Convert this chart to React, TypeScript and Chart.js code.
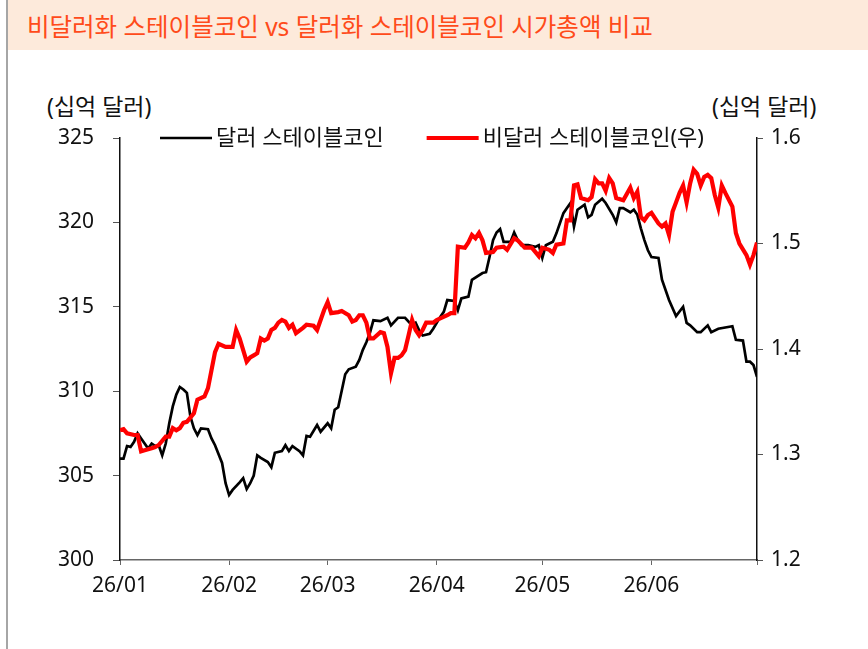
import { useEffect, useRef } from "react";
import { Chart, registerables } from "chart.js";

Chart.register(...registerables);

// ---- data (day index from 2026-01-01) ----
const dollarDays = [0,1,2,3,4,5,6,7,8,9,10,11,12,13,14,15,16,17,18,19,20,21,22,23,25,26,27,29,30,31,32,34,35,36,37,38,39,40,42,43,44,46,47,48,49,51,52,53,54,56,57,59,60,61,62,64,65,67,68,69,70,71,72,74,76,77,79,81,83,84,85,86,88,89,91,92,93,95,96,97,99,100,103,104,105,106,107,108,109,111,112,113,114,116,118,119,120,121,123,124,126,127,128,129,130,132,133,134,135,137,138,140,141,142,143,145,146,147,148,149,150,151,153,154,156,158,160,161,162,164,165,167,168,170,174,175,177,178,179,180,181];
const dollarValues = [306.0,306.0,306.75,306.7,307.0,307.5,307.2,306.9,306.6,306.9,306.75,306.8,306.2,306.9,308.1,309.1,309.8,310.25,310.1,309.9,308.5,307.8,307.4,307.8,307.75,307.2,306.8,305.75,304.55,303.85,304.15,304.6,304.85,304.2,304.55,305.0,306.2,306.05,305.8,305.5,306.35,306.45,306.8,306.45,306.75,306.45,306.2,307.35,307.3,308.0,307.6,308.1,307.8,308.9,309.05,311.0,311.3,311.45,311.85,312.45,312.9,313.45,314.2,314.15,314.35,313.9,314.35,314.35,313.9,314.05,313.6,313.3,313.4,313.7,314.4,314.7,315.4,315.35,314.8,315.5,315.6,316.6,317.0,317.05,317.95,318.95,319.4,319.6,318.85,318.85,319.4,318.95,318.65,318.65,318.55,318.65,317.9,318.65,318.85,319.35,320.55,320.85,321.15,319.75,320.75,321.05,320.3,320.45,321.05,321.4,321.15,320.45,320.0,320.85,320.85,320.6,320.75,320.45,319.65,318.95,318.35,317.95,317.9,316.6,315.4,314.45,315.0,314.05,313.9,313.5,313.5,313.9,313.5,313.7,313.85,313.05,313.0,311.75,311.75,311.55,310.85];

const nonDollarDays = [0,1,2,4,5,6,7,8,9,10,11,13,14,15,16,17,18,19,21,22,24,25,26,27,28,30,31,32,33,34,36,37,38,39,40,41,42,43,44,45,46,47,48,49,50,52,53,55,56,58,59,60,62,63,65,66,67,68,69,70,71,72,74,75,76,77,78,79,80,81,82,83,84,85,86,87,89,90,91,93,94,95,96,98,99,100,101,102,103,104,106,107,109,110,112,113,115,117,118,119,120,122,123,124,126,127,128,129,130,131,133,134,135,136,137,138,139,140,141,143,144,145,146,147,148,149,150,151,153,154,155,156,157,158,159,160,161,162,163,164,165,166,167,168,169,170,171,172,174,175,176,178,179,180,181];
const nonDollarValues = [1.323,1.324,1.320,1.3185,1.3185,1.303,1.304,1.305,1.306,1.307,1.309,1.317,1.317,1.325,1.323,1.325,1.330,1.331,1.339,1.352,1.355,1.363,1.380,1.397,1.405,1.402,1.402,1.402,1.418,1.410,1.388,1.392,1.394,1.396,1.410,1.408,1.410,1.418,1.420,1.425,1.4275,1.426,1.420,1.423,1.415,1.420,1.423,1.422,1.418,1.437,1.4445,1.434,1.435,1.436,1.432,1.426,1.4275,1.432,1.432,1.425,1.410,1.410,1.416,1.415,1.402,1.377,1.3915,1.3915,1.394,1.399,1.413,1.4275,1.418,1.413,1.418,1.425,1.425,1.4275,1.429,1.432,1.434,1.434,1.497,1.496,1.501,1.508,1.505,1.510,1.503,1.491,1.492,1.496,1.497,1.494,1.505,1.503,1.496,1.496,1.492,1.488,1.496,1.494,1.491,1.499,1.500,1.522,1.522,1.555,1.556,1.543,1.541,1.544,1.561,1.557,1.557,1.550,1.562,1.557,1.543,1.541,1.547,1.553,1.543,1.549,1.525,1.522,1.527,1.529,1.519,1.516,1.519,1.508,1.530,1.539,1.548,1.555,1.539,1.557,1.570,1.566,1.555,1.563,1.565,1.562,1.546,1.534,1.555,1.548,1.535,1.510,1.500,1.489,1.480,1.489,1.501];

const monthTickDays = [0, 31, 59, 90, 120, 151, 181];
const monthTickLabels = ["26/01", "26/02", "26/03", "26/04", "26/05", "26/06", ""];
const leftTicks = [300, 305, 310, 315, 320, 325];
const rightTicks = [1.2, 1.3, 1.4, 1.5, 1.6];

const seriesLabels = ["달러 스테이블코인", "비달러 스테이블코인(우)"];
const titleText = "비달러화 스테이블코인 vs 달러화 스테이블코인 시가총액 비교";
const unitText = "(십억 달러)";

const FONT = "'Noto Sans', 'Noto Sans CJK KR', sans-serif";

const legendPlugin = {
  id: "customLegend",
  afterDraw(chart: any) {
    const ctx = chart.ctx;
    const area = chart.chartArea;
    ctx.save();
    ctx.font = `22px ${FONT}`;
    ctx.textBaseline = "middle";
    ctx.textAlign = "left";
    const y = area.top;
    let x = area.left + 40;
    chart.data.datasets.forEach((ds: any) => {
      ctx.strokeStyle = ds.borderColor;
      ctx.lineWidth = ds.borderWidth;
      ctx.beginPath();
      ctx.moveTo(x, y);
      ctx.lineTo(x + 52, y);
      ctx.stroke();
      ctx.fillStyle = "#111";
      ctx.fillText(ds.label, x + 56, y + 1);
      x += 56 + ctx.measureText(ds.label).width + 43;
    });
    ctx.restore();
  },
};

export default function App() {
  const ref = useRef<HTMLCanvasElement | null>(null);

  useEffect(() => {
    if (!ref.current) return;
    const chart = new Chart(ref.current, {
      type: "line",
      data: {
        datasets: [
          {
            label: seriesLabels[0],
            data: dollarDays.map((d, i) => ({ x: d, y: dollarValues[i] })),
            borderColor: "#000000",
            backgroundColor: "#000000",
            borderWidth: 2.7,
            pointRadius: 0,
            tension: 0,
            yAxisID: "y",
            order: 2,
          },
          {
            label: seriesLabels[1],
            data: nonDollarDays.map((d, i) => ({ x: d, y: nonDollarValues[i] })),
            borderColor: "#ff0000",
            backgroundColor: "#ff0000",
            borderWidth: 4.2,
            pointRadius: 0,
            tension: 0,
            yAxisID: "y1",
            order: 1,
          },
        ],
      },
      options: {
        responsive: false,
        animation: false,
        layout: { padding: { top: 138, left: 0, right: 0, bottom: 49 } },
        plugins: {
          legend: { display: false },
          title: { display: false },
          tooltip: { enabled: false },
        },
        scales: {
          x: {
            type: "linear",
            min: 0,
            max: 181,
            afterBuildTicks: (s: any) => {
              s.ticks = monthTickDays.map((v) => ({ value: v }));
            },
            afterFit: (s: any) => {
              s.height = 40;
            },
            ticks: {
              autoSkip: false,
              maxRotation: 0,
              padding: 8,
              color: "#111",
              font: { family: FONT, size: 21 },
              callback: (v: any) => {
                const i = monthTickDays.indexOf(Number(v));
                return i >= 0 ? monthTickLabels[i] : "";
              },
            },
            grid: {
              drawOnChartArea: false,
              drawTicks: true,
              tickLength: 5,
              tickColor: "#666",
              color: "#666",
            },
            border: { display: true, color: "#666", width: 1.5 },
          },
          y: {
            position: "left",
            min: 300,
            max: 325,
            afterBuildTicks: (s: any) => {
              s.ticks = leftTicks.map((v) => ({ value: v }));
            },
            afterFit: (s: any) => {
              s.width = 120;
            },
            ticks: {
              padding: 19,
              color: "#111",
              font: { family: FONT, size: 21 },
              callback: (v: any) => String(v),
            },
            grid: {
              drawOnChartArea: false,
              drawTicks: true,
              tickLength: 7,
              tickColor: "#555",
            },
            border: { display: true, color: "#111", width: 1.5 },
          },
          y1: {
            position: "right",
            min: 1.2,
            max: 1.6,
            afterBuildTicks: (s: any) => {
              s.ticks = rightTicks.map((v) => ({ value: v }));
            },
            afterFit: (s: any) => {
              s.width = 111;
            },
            ticks: {
              padding: 8,
              color: "#111",
              font: { family: FONT, size: 21 },
              callback: (v: any) => Number(v).toFixed(1),
            },
            grid: {
              drawOnChartArea: false,
              drawTicks: true,
              tickLength: 6,
              tickColor: "#555",
            },
            border: { display: true, color: "#111", width: 1.5 },
          },
        },
      },
      plugins: [legendPlugin],
    } as any);
    return () => chart.destroy();
  }, []);

  return (
    <div
      style={{
        position: "fixed",
        left: 0,
        top: 0,
        width: 868,
        height: 649,
        background: "#ffffff",
        overflow: "hidden",
        fontFamily: FONT,
      }}
    >
      <div
        style={{
          position: "absolute",
          left: 6,
          top: 0,
          width: 2,
          height: 649,
          background: "#a6a6a6",
        }}
      />
      <div
        style={{
          position: "absolute",
          left: 8,
          top: 0,
          width: 860,
          height: 50,
          background: "#fdeadb",
        }}
      />
      <div
        style={{
          position: "absolute",
          left: 27,
          top: 7,
          height: 40,
          lineHeight: "40px",
          fontSize: 24.5,
          color: "#ff4b1a",
          whiteSpace: "nowrap",
        }}
      >
        {titleText}
      </div>
      <div
        style={{
          position: "absolute",
          left: 47,
          top: 91,
          lineHeight: "30px",
          fontSize: 23,
          color: "#111",
          whiteSpace: "nowrap",
        }}
      >
        {unitText}
      </div>
      <div
        style={{
          position: "absolute",
          left: 712,
          top: 91,
          lineHeight: "30px",
          fontSize: 23,
          color: "#111",
          whiteSpace: "nowrap",
        }}
      >
        {unitText}
      </div>
      <canvas
        ref={ref}
        width={868}
        height={649}
        style={{ position: "absolute", left: 0, top: 0, width: 868, height: 649 }}
      />
    </div>
  );
}
